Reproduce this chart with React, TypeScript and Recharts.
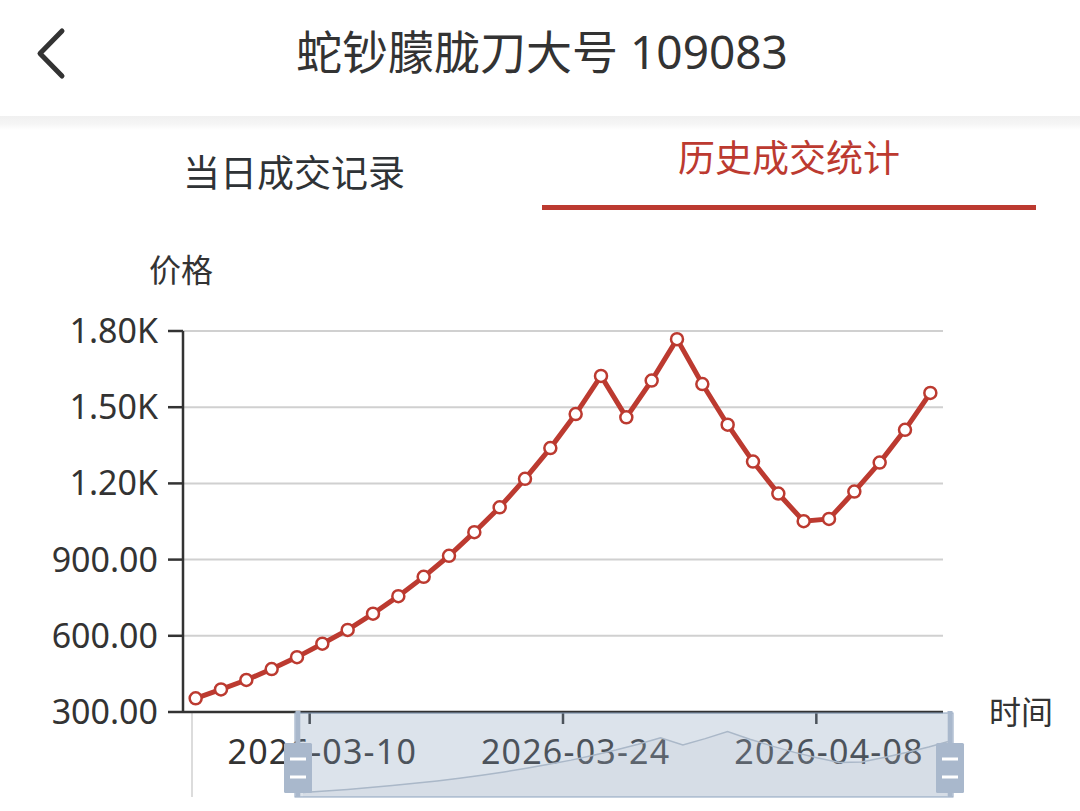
import React from 'react';
import { LineChart, Line, XAxis, YAxis, CartesianGrid, Brush, AreaChart, Area } from 'recharts';

// ---- data ----
const dates = [
  '2026-03-03', '2026-03-04', '2026-03-06', '2026-03-07', '2026-03-08',
  '2026-03-10', '2026-03-11', '2026-03-13', '2026-03-14', '2026-03-15',
  '2026-03-17', '2026-03-18', '2026-03-20', '2026-03-21', '2026-03-22',
  '2026-03-24', '2026-03-25', '2026-03-27', '2026-03-28', '2026-03-30',
  '2026-03-31', '2026-04-02', '2026-04-03', '2026-04-05', '2026-04-06',
  '2026-04-08', '2026-04-09', '2026-04-11', '2026-04-12', '2026-04-13',
];
const prices = [
  354, 389, 426, 469, 516, 569, 623, 687, 756, 832,
  915, 1008, 1106, 1218, 1339, 1473, 1623, 1460, 1605, 1768,
  1591, 1431, 1286, 1160, 1051, 1060, 1168, 1282, 1411, 1556,
];
const yTicks = [300, 600, 900, 1200, 1500, 1800];
const xTickDates = ['2026-03-10', '2026-03-24', '2026-04-08'];
const shadowDomain = [250, 2200];

const title = '蛇钞朦胧刀大号 109083';
const tabLeft = '当日成交记录';
const tabRight = '历史成交统计';
const yName = '价格';
const xName = '时间';

const data = dates.map((d, i) => ({ idx: i, date: d, price: prices[i] }));
const xTicks = xTickDates.map((d) => dates.indexOf(d));

// ---- layout / style ----
const W = 1080;
const H = 811;
const PLOT_L = 183;
const PLOT_R = 943;
const PLOT_T = 331;
const PLOT_W = PLOT_R - PLOT_L;
const HALF_BAND = PLOT_W / dates.length / 2;
const FONT = "'Noto Sans', 'Noto Sans CJK SC', sans-serif";
const RED = '#bc3a30';
const DARK = '#333333';
const X_TICK_MARGIN = 28;
const SLIDER = { x: 295, y: 713, w: 658, h: 84 };

const fmtY = (v: number) => (v >= 1000 ? (v / 1000).toFixed(2) + 'K' : v.toFixed(2));

const XTick = (props: any) => {
  const { x, y, payload } = props;
  const axisY = y - X_TICK_MARGIN;
  const tx = x - HALF_BAND;
  return (
    <g>
      <line x1={tx} x2={tx} y1={axisY} y2={axisY + 12} stroke={DARK} strokeWidth={2.5} />
      <text
        x={x}
        y={y}
        dy="0.71em"
        textAnchor="middle"
        fontSize={34}
        fill={DARK}
        letterSpacing={1.2}
        fontFamily={FONT}
      >
        {dates[payload.value]}
      </text>
    </g>
  );
};

const Handle = (props: any) => {
  const { x, y, width, height } = props;
  const cx = x + width / 2;
  const c = '#a9b8cc';
  return (
    <g>
      <rect x={cx - 2.5} y={y - 2} width={5} height={height + 2} fill={c} />
      <rect x={cx - 14} y={y + 30} width={28} height={50} rx={1.5} fill={c} />
      <rect x={cx - 8} y={y + 44.5} width={16} height={3} fill="#ffffff" />
      <rect x={cx - 8} y={y + 62.5} width={16} height={3} fill="#ffffff" />
    </g>
  );
};

const abs = (s: React.CSSProperties): React.CSSProperties => ({ position: 'absolute', ...s });

export default function App() {
  return (
    <div style={abs({ left: 0, top: 0, width: W, height: H, background: '#fff', fontFamily: FONT, overflow: 'hidden' })}>
      {/* header */}
      <svg style={abs({ left: 0, top: 0 })} width={100} height={110}>
        <polyline points="62,31 40,53.5 62,76" fill="none" stroke={DARK} strokeWidth={5} strokeLinecap="round" strokeLinejoin="round" />
      </svg>
      <div style={abs({ left: 0, top: 24, width: W, height: 54, lineHeight: '54px', textAlign: 'center', fontSize: 46, color: DARK, paddingLeft: 2 })}>
        {title}
      </div>
      <div style={abs({ left: 0, top: 116, width: W, height: 14, background: 'linear-gradient(to bottom, #f0f0f0, #f6f6f6 60%, #ffffff)' })} />
      <div style={abs({ left: 94, top: 150, width: 400, height: 46, lineHeight: '46px', textAlign: 'center', fontSize: 37, color: '#2f3336' })}>
        {tabLeft}
      </div>
      <div style={abs({ left: 589, top: 135, width: 400, height: 46, lineHeight: '46px', textAlign: 'center', fontSize: 37, color: RED })}>
        {tabRight}
      </div>
      <div style={abs({ left: 542, top: 205, width: 494, height: 5, background: RED })} />

      {/* slider unselected part (behind chart) */}
      <div style={abs({ left: 191, top: SLIDER.y, width: SLIDER.x - 191, height: SLIDER.h, borderLeft: '2px solid #dcdcdc', boxSizing: 'border-box' })} />

      {/* axis names */}
      <div style={abs({ left: 131, top: 250, width: 100, height: 40, lineHeight: '40px', textAlign: 'center', fontSize: 32, color: DARK })}>
        {yName}
      </div>
      <div style={abs({ left: 971, top: 692, width: 100, height: 40, lineHeight: '40px', textAlign: 'center', fontSize: 32, color: DARK })}>
        {xName}
      </div>

      {/* main chart */}
      <div style={abs({ left: 0, top: 0 })}>
        <LineChart
          width={W}
          height={H}
          data={data}
          margin={{ top: PLOT_T, right: W - PLOT_R, bottom: SLIDER.h, left: 0 }}
          style={{ fontFamily: FONT }}
        >
          <CartesianGrid vertical={false} stroke="#d0d0d0" strokeWidth={2} />
          <YAxis
            type="number"
            domain={[300, 1800]}
            ticks={yTicks}
            interval={0}
            width={PLOT_L}
            tickSize={15}
            tickMargin={10}
            tickFormatter={fmtY}
            axisLine={{ stroke: DARK, strokeWidth: 2.5 }}
            tickLine={{ stroke: DARK, strokeWidth: 2.5 }}
            tick={{ fontSize: 34, fill: DARK, fontFamily: FONT }}
          />
          <XAxis
            type="number"
            dataKey="idx"
            domain={[-0.5, dates.length - 0.5]}
            ticks={xTicks}
            interval={0}
            height={15}
            tickSize={0}
            tickMargin={X_TICK_MARGIN}
            tickLine={false}
            axisLine={{ stroke: DARK, strokeWidth: 2.5 }}
            tick={<XTick />}
          />
          <Line
            type="linear"
            dataKey="price"
            stroke={RED}
            strokeWidth={5}
            dot={{ r: 6, fill: '#ffffff', stroke: RED, strokeWidth: 2.5 }}
            isAnimationActive={false}
          />
        </LineChart>
      </div>

      {/* slider data shadow */}
      <div style={abs({ left: 0, top: 0, pointerEvents: 'none' })}>
        <AreaChart
          width={W}
          height={H}
          data={data}
          margin={{ top: SLIDER.y, right: W - (SLIDER.x + SLIDER.w - 2), bottom: H - (SLIDER.y + SLIDER.h), left: SLIDER.x + 8 }}
        >
          <XAxis hide type="number" dataKey="idx" domain={[0, dates.length - 1]} />
          <YAxis hide domain={shadowDomain} />
          <Area
            type="linear"
            dataKey="price"
            stroke="#b8c2cd"
            strokeWidth={1.5}
            fill="#c3ccd7"
            fillOpacity={0.15}
            dot={false}
            activeDot={false}
            isAnimationActive={false}
          />
        </AreaChart>
      </div>

      {/* slider (dataZoom) */}
      <div style={abs({ left: 0, top: 0 })}>
        <LineChart width={W} height={H} data={data} margin={{ top: 0, right: 0, bottom: 0, left: 0 }}>
          <Brush
            dataKey="idx"
            x={SLIDER.x}
            y={SLIDER.y}
            width={SLIDER.w}
            height={SLIDER.h}
            travellerWidth={6}
            stroke="#8ca2be"
            fill="rgba(140,162,190,0.12)"
            traveller={(p: any) => <Handle {...p} />}
          />
        </LineChart>
      </div>
    </div>
  );
}
